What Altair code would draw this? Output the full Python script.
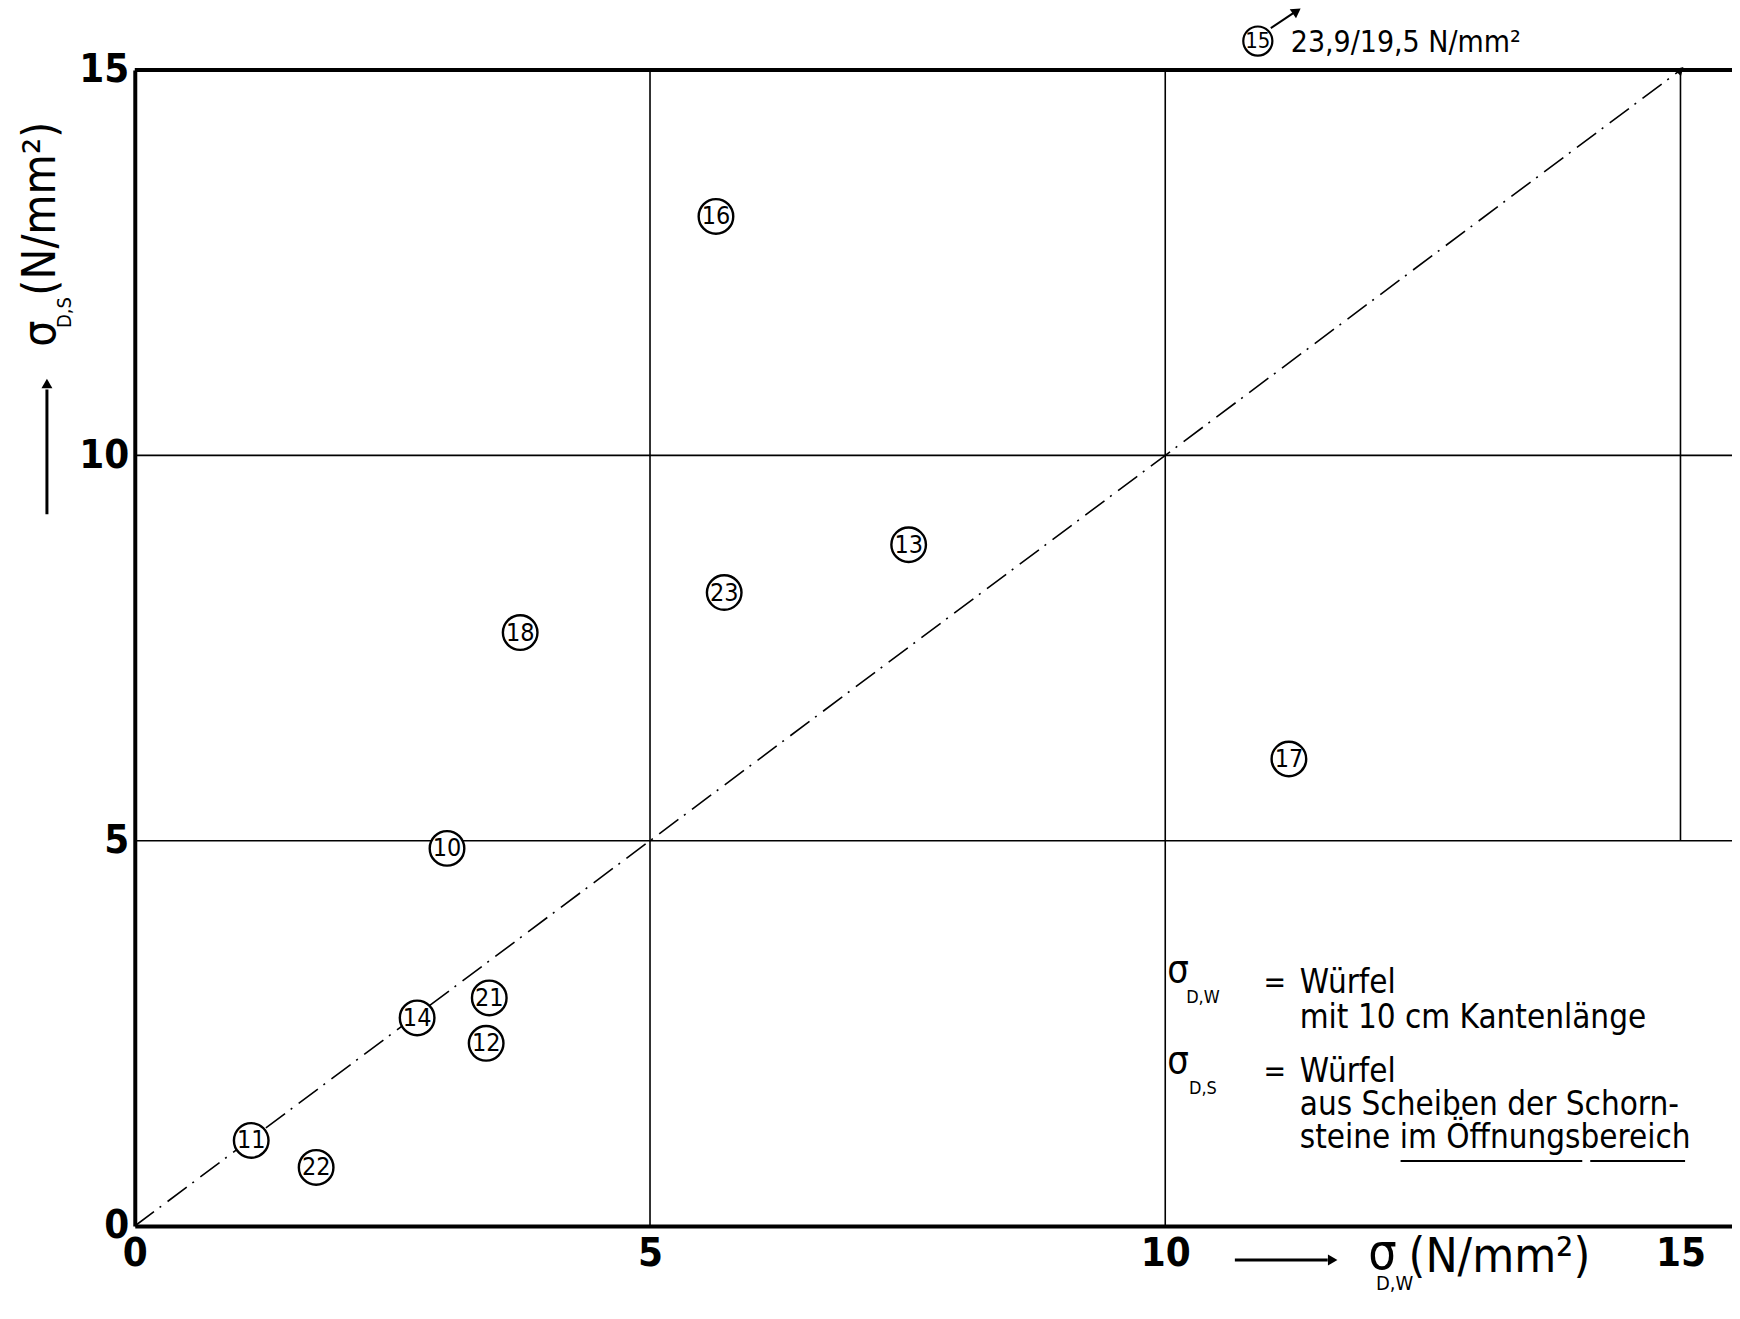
import altair as alt
import pandas as pd

# ---------------- data ----------------
ids = ["10", "11", "12", "13", "14", "16", "17", "18", "21", "22", "23"]
sigma_w = [3.03, 1.13, 3.41, 7.51, 2.74, 5.64, 11.20, 3.74, 3.44, 1.76, 5.72]
sigma_s = [4.90, 1.11, 2.37, 8.84, 2.70, 13.10, 6.06, 7.70, 2.96, 0.76, 8.22]

tick_values = [0, 5, 10, 15]
X_MAX = 15.5
Y_MAX = 15

# grid lines (vertical: x, y-from, y-to ; horizontal: y)
vgrid_x = [5, 10, 15]
vgrid_y0 = [0, 0, 5]
vgrid_y1 = [15, 15, 15]
hgrid_y = [5, 10]

# bisector line
diag_x = [0, 15]
diag_y = [0, 15]

FONT = "'DejaVu Sans Condensed', 'Liberation Sans Narrow', 'Roboto Condensed', 'DejaVu Sans', sans-serif"

df = pd.DataFrame({"w": sigma_w, "s": sigma_s, "id": ids})
vg = pd.DataFrame({"w": vgrid_x, "s": vgrid_y0, "s2": vgrid_y1})
hg = pd.DataFrame({"s": hgrid_y, "w": [0] * len(hgrid_y), "w2": [X_MAX] * len(hgrid_y)})
top = pd.DataFrame({"s": [Y_MAX], "w": [0], "w2": [X_MAX]})
diag = pd.DataFrame({"w": diag_x, "s": diag_y})
tip = pd.DataFrame({"w": [15], "s": [15]})
one = pd.DataFrame({"a": [0]})

xs = alt.Scale(domain=[0, X_MAX], nice=False, zero=False)
ys = alt.Scale(domain=[0, Y_MAX], nice=False, zero=False)

XAXIS = alt.Axis(values=tick_values, ticks=False, grid=False, domainWidth=4, title=None,
                 domainColor="black", labelFont=FONT, labelFontSize=40,
                 labelFontWeight="bold", labelColor="black", labelPadding=8,
                 labelFlush=False, labelOverlap=False)
YAXIS = alt.Axis(values=tick_values, ticks=False, grid=False, domainWidth=4, title=None,
                 domainColor="black", labelFont=FONT, labelFontSize=40,
                 labelFontWeight="bold", labelColor="black", labelPadding=6,
                 labelFlush=False, labelOverlap=False, labelBaseline="middle")


def X(f="w"):
    return alt.X(f"{f}:Q", scale=xs, axis=XAXIS, title=None)


def Y(f="s"):
    return alt.Y(f"{f}:Q", scale=ys, axis=YAXIS, title=None)


vlines = alt.Chart(vg).mark_rule(color="black", strokeWidth=1.6).encode(
    x=X(), y=Y(), y2="s2:Q")
hlines = alt.Chart(hg).mark_rule(color="black", strokeWidth=1.6).encode(
    x=X(), x2="w2:Q", y=Y())
topline = alt.Chart(top).mark_rule(color="black", strokeWidth=4).encode(
    x=X(), x2="w2:Q", y=Y())

diag_line = alt.Chart(diag).mark_line(color="black", strokeWidth=1.6,
                                      strokeDash=[24, 7, 2, 8]).encode(x=X(), y=Y())
diag_tip = alt.Chart(tip).mark_point(shape="triangle-up", filled=True, color="black",
                                     size=90, angle=45, opacity=1).encode(x=X(), y=Y())

circles = alt.Chart(df).mark_point(shape="circle", size=1200, filled=False, fill="white",
                                   fillOpacity=1, stroke="black", strokeWidth=2.4,
                                   opacity=1).encode(x=X(), y=Y())
labels = alt.Chart(df).mark_text(font=FONT, fontSize=25, color="black",
                                 align="center", baseline="middle").encode(
    x=X(), y=Y(), text="id:N")


def txt(t, x, y, size=30, align="left", angle=0, weight="normal", baseline="middle"):
    kw = dict(font=FONT, fontSize=size, color="black", align=align, baseline=baseline,
              fontWeight=weight)
    if angle:
        kw["angle"] = angle
    return alt.Chart(one).mark_text(text=t, **kw).encode(x=alt.value(x), y=alt.value(y))


def hrule(x1, x2, y, w=2.0):
    return alt.Chart(one).mark_rule(color="black", strokeWidth=w).encode(
        x=alt.value(x1), x2=alt.value(x2), y=alt.value(y))


def vrule(x, y1, y2, w=2.0):
    return alt.Chart(one).mark_rule(color="black", strokeWidth=w).encode(
        x=alt.value(x), y=alt.value(y1), y2=alt.value(y2))


def arrowhead(x, y, angle):
    return alt.Chart(one).mark_point(shape="triangle-up", filled=True, color="black",
                                     size=120, angle=angle, opacity=1).encode(
        x=alt.value(x), y=alt.value(y))


# plot origin in page pixels is (135, 69): annotation positions are relative to it
annot = [
    # x axis title
    hrule(1102, 1195, 1192, 3),
    arrowhead(1200, 1192, 90),
    txt("σ", 1250, 1186, 50, align="center"),
    txt("D,W", 1262, 1216, 20, align="center"),
    txt("(N/mm²)", 1276, 1190, 48),
    # y axis title
    vrule(-88, 445, 320, 3),
    arrowhead(-88, 314, 0),
    txt("σ", -94, 264, 46, align="center", angle=270),
    txt("D,S", -70, 243, 20, align="center", angle=270),
    txt("(N/mm²)", -94, 226, 46, align="left", angle=270),
    # off-scale point 15
    txt("23,9/19,5 N/mm²", 1158, -27, 30),
    # legend
    txt("σ", 1045, 903, 38, align="center"),
    txt("D,W", 1070, 930, 18, align="center"),
    txt("=", 1142, 915, 30, align="center"),
    txt("Würfel", 1167, 915, 33),
    txt("mit  10 cm  Kantenlänge", 1167, 950, 33),
    txt("σ", 1045, 994, 38, align="center"),
    txt("D,S", 1070, 1021, 18, align="center"),
    txt("=", 1142, 1004, 30, align="center"),
    txt("Würfel", 1167, 1004, 33),
    txt("aus  Scheiben  der  Schorn-", 1167, 1037, 33),
    txt("steine  im  Öffnungsbereich", 1167, 1070, 33),
    hrule(1268, 1450, 1093, 2),
    hrule(1458, 1553, 1093, 2),
]

c15 = alt.Chart(one).mark_point(shape="circle", size=850, filled=False, stroke="black",
                                strokeWidth=2.2, opacity=1).encode(
    x=alt.value(1125), y=alt.value(-29))
t15 = txt("15", 1125, -29, 22, align="center")
a15 = [
    alt.Chart(one).mark_rule(color="black", strokeWidth=2).encode(
        x=alt.value(1138), y=alt.value(-42), x2=alt.value(1162), y2=alt.value(-58)),
    arrowhead(1164, -59, 55),
]

chart = alt.layer(
    vlines, hlines, topline, diag_line, diag_tip, circles, labels,
    *annot, c15, t15, *a15,
).properties(
    width=1600, height=1158,
    autosize=alt.AutoSizeParams(type="none"),
    padding={"left": 127, "top": 61, "right": 0, "bottom": 76},
).configure_view(stroke=None).configure(background="white")

chart.save("out.html", embed_options={"renderer": "svg", "actions": False})
